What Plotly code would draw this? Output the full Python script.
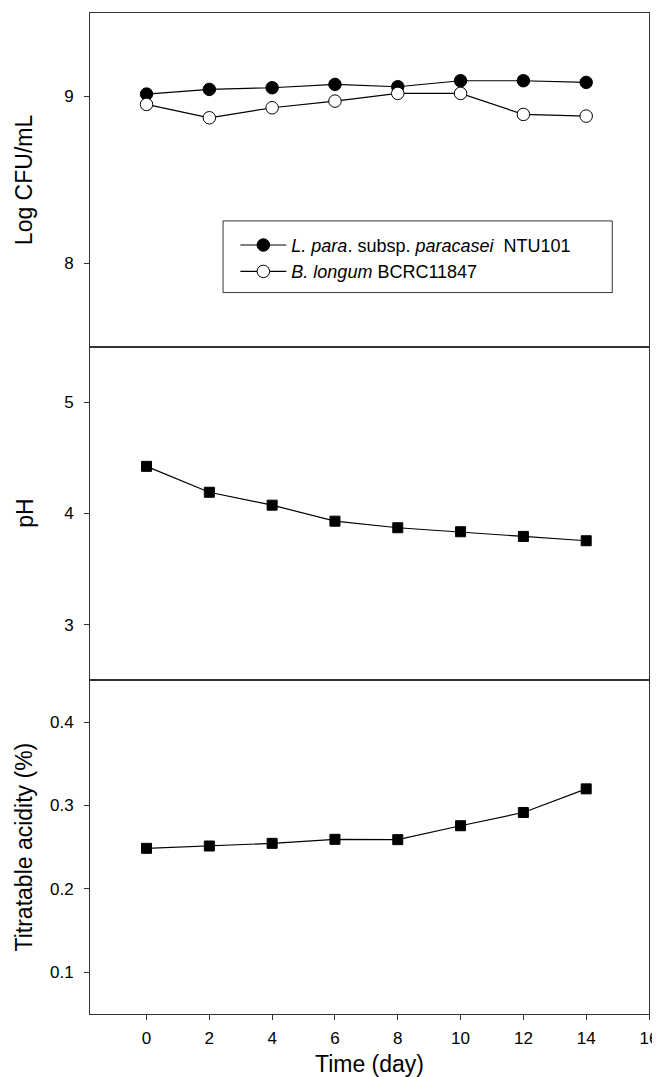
import plotly.graph_objects as go
from plotly.subplots import make_subplots

days = [0, 2, 4, 6, 8, 10, 12, 14]
lpara_cfu = [9.014, 9.042, 9.052, 9.072, 9.058, 9.094, 9.094, 9.084]
blongum_cfu = [8.952, 8.872, 8.932, 8.972, 9.018, 9.018, 8.892, 8.882]
ph_values = [4.424, 4.191, 4.075, 3.931, 3.872, 3.836, 3.794, 3.755]
acidity_values = [0.2486, 0.2514, 0.2546, 0.2594, 0.259, 0.2757, 0.2916, 0.3199]

x_ticks = [0, 2, 4, 6, 8, 10, 12, 14, 16]
cfu_ticks = [8, 9]
ph_ticks = [3, 4, 5]
acid_ticks = [0.1, 0.2, 0.3, 0.4]

FONT = "Liberation Sans, Arial, sans-serif"

fig = make_subplots(rows=3, cols=1, shared_xaxes=True, vertical_spacing=0)

fig.add_trace(go.Scatter(
    x=days, y=lpara_cfu, mode="lines+markers",
    name="<i>L. para</i>. subsp. <i>paracasei</i>  NTU101",
    line=dict(color="black", width=1.2),
    marker=dict(symbol="circle", size=12.5, color="black", line=dict(color="black", width=1)),
), row=1, col=1)
fig.add_trace(go.Scatter(
    x=days, y=blongum_cfu, mode="lines+markers",
    name="<i>B. longum</i> BCRC11847",
    line=dict(color="black", width=1.2),
    marker=dict(symbol="circle", size=12.5, color="white", line=dict(color="black", width=1)),
), row=1, col=1)
fig.add_trace(go.Scatter(
    x=days, y=ph_values, mode="lines+markers", showlegend=False,
    line=dict(color="black", width=1.2),
    marker=dict(symbol="square", size=10, color="black", line=dict(color="black", width=1)),
), row=2, col=1)
fig.add_trace(go.Scatter(
    x=days, y=acidity_values, mode="lines+markers", showlegend=False,
    line=dict(color="black", width=1.2),
    marker=dict(symbol="square", size=10, color="black", line=dict(color="black", width=1)),
), row=3, col=1)

axis_common = dict(showline=True, linecolor="#333333", linewidth=1, mirror=True,
                   showgrid=False, zeroline=False, ticks="outside", ticklen=5,
                   tickcolor="#333333", tickfont=dict(size=17, color="black", family=FONT))

for r in (1, 2, 3):
    fig.update_xaxes(range=[-1.8, 16], tickvals=x_ticks, row=r, col=1, **axis_common)
fig.update_xaxes(showticklabels=False, ticks="", row=1, col=1)
fig.update_xaxes(showticklabels=False, ticks="", row=2, col=1)
fig.update_xaxes(ticklabelstandoff=4,
                 title=dict(text="Time (day)", font=dict(size=23, family=FONT, color="black"), standoff=8),
                 row=3, col=1)

fig.update_yaxes(range=[7.5, 9.5], tickvals=cfu_ticks, row=1, col=1, **axis_common)
fig.update_yaxes(range=[2.5, 5.5], tickvals=ph_ticks, row=2, col=1, **axis_common)
fig.update_yaxes(range=[0.05, 0.45], tickvals=acid_ticks, tickformat=".1f", row=3, col=1, **axis_common)
fig.update_yaxes(ticklabelstandoff=7)

for text, ypos in [("Log CFU/mL", 5/6), ("pH", 0.5), ("Titratable acidity (%)", 1/6)]:
    fig.add_annotation(text=text, xref="paper", yref="paper", x=-0.1175, y=ypos,
                       xanchor="center", yanchor="middle", textangle=-90, showarrow=False,
                       font=dict(size=23, family=FONT, color="black"))

# legend frame
fig.add_shape(type="rect", xref="paper", yref="paper", x0=0.238, x1=0.9343, y0=0.7207, y1=0.7923,
              line=dict(color="#333333", width=1), fillcolor="white", layer="below")

fig.update_layout(
    width=660, height=1069,
    margin=dict(l=82, r=19, t=4, b=60),
    paper_bgcolor="white", plot_bgcolor="rgba(0,0,0,0)",
    font=dict(family=FONT, color="black"),
    legend=dict(x=0.26, y=0.7864, xanchor="left", yanchor="top",
                bgcolor="rgba(0,0,0,0)", borderwidth=0,
                font=dict(size=18, family=FONT, color="black"),
                itemwidth=46),
)

fig.write_html("out.html", config={"displayModeBar": False})
